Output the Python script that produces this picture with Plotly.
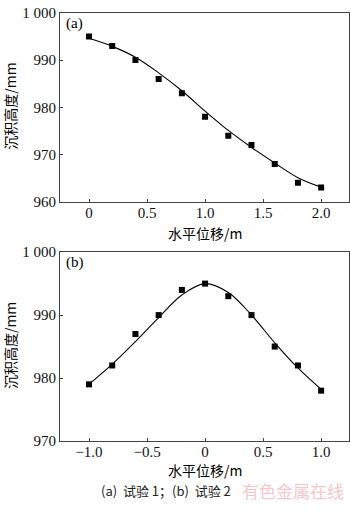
import plotly.graph_objects as go

# Test 1: measured deposition height along horizontal offset
x_a = [0, 0.2, 0.4, 0.6, 0.8, 1.0, 1.2, 1.4, 1.6, 1.8, 2.0]
h_a = [995, 993, 990, 986, 983, 978, 974, 972, 968, 964, 963]
# fitted curve for test 1
fx_a = [0, 0.2, 0.4, 0.6, 0.8, 1.0, 1.2, 1.4, 1.6, 1.8, 2.0]
fh_a = [994.6, 992.9, 990.6, 987.3, 983.5, 979.2, 975.1, 971.5, 968.2, 965.1, 963.1]

# Test 2
x_b = [-1.0, -0.8, -0.6, -0.4, -0.2, 0, 0.2, 0.4, 0.6, 0.8, 1.0]
h_b = [979, 982, 987, 990, 994, 995, 993, 990, 985, 982, 978]
fx_b = [-1.0, -0.8, -0.6, -0.4, -0.2, 0, 0.2, 0.4, 0.6, 0.8, 1.0]
fh_b = [979.0, 982.2, 985.8, 989.6, 993.2, 995.0, 993.6, 990.0, 985.6, 981.6, 978.2]

ticks_y_a = [960, 970, 980, 990, 1000]
ticks_y_b = [970, 980, 990, 1000]
ticks_x_a = [0, 0.5, 1.0, 1.5, 2.0]
ticks_x_b = [-1.0, -0.5, 0, 0.5, 1.0]

SERIF = "Liberation Serif, Times New Roman, serif"
CJK = "Noto Sans CJK SC, sans-serif"

def ylabel(v):
    return "1 000" if v == 1000 else str(v)

def xlabel(v):
    return "0" if v == 0 else f"{v:.1f}".replace("-", "\u2212")

fig = go.Figure()

marker = dict(symbol="square", size=6, color="black")
line = dict(color="black", width=1.1, shape="spline", smoothing=1.0)

fig.add_trace(go.Scatter(x=fx_a, y=fh_a, mode="lines", line=line, xaxis="x", yaxis="y", hoverinfo="skip"))
fig.add_trace(go.Scatter(x=x_a, y=h_a, mode="markers", marker=marker, xaxis="x", yaxis="y"))
fig.add_trace(go.Scatter(x=fx_b, y=fh_b, mode="lines", line=line, xaxis="x2", yaxis="y2", hoverinfo="skip"))
fig.add_trace(go.Scatter(x=x_b, y=h_b, mode="markers", marker=marker, xaxis="x2", yaxis="y2"))

W, H = 350, 512
def px_x(p):
    return p / W
def px_y(p):
    return 1 - p / H

axis_common = dict(
    showgrid=False, zeroline=False, showline=True, linecolor="#444", linewidth=1,
    mirror=True, ticks="inside", ticklen=3, tickcolor="#444", tickwidth=1,
    tickfont=dict(family=SERIF, size=15, color="#111"),
)

fig.update_layout(
    width=W, height=H, margin=dict(l=0, r=0, t=0, b=0),
    paper_bgcolor="white", plot_bgcolor="white", showlegend=False,
    xaxis=dict(axis_common, domain=[px_x(60), px_x(349)], range=[-0.25, 2.24],
               tickvals=ticks_x_a, ticktext=[xlabel(v) for v in ticks_x_a], anchor="y",
               ticklabelstandoff=-3),
    yaxis=dict(axis_common, domain=[px_y(200), px_y(5)], range=[960, 1000],
               tickvals=ticks_y_a, ticktext=[ylabel(v) for v in ticks_y_a], anchor="x",
               ticklabelstandoff=0),
    xaxis2=dict(axis_common, domain=[px_x(60), px_x(349)], range=[-1.25, 1.24],
                tickvals=ticks_x_b, ticktext=[xlabel(v) for v in ticks_x_b], anchor="y2",
                ticklabelstandoff=-3),
    yaxis2=dict(axis_common, domain=[px_y(447), px_y(252)], range=[970, 1000],
                tickvals=ticks_y_b, ticktext=[ylabel(v) for v in ticks_y_b], anchor="x2",
                ticklabelstandoff=0),
)

def note(text, x, y, size, family, color="black", xanchor="center", angle=0):
    fig.add_annotation(text=text, x=px_x(x), y=px_y(y), xref="paper", yref="paper",
                       showarrow=False, xanchor=xanchor, yanchor="middle", textangle=angle,
                       font=dict(family=family, size=size, color=color))

# axis titles
note("沉积高度/mm", 10, 102, 14, CJK, angle=-90)
note("水平位移/m", 205, 232, 14, CJK)
note("沉积高度/mm", 10, 349, 14, CJK, angle=-90)
note("水平位移/m", 205, 477, 14, CJK)

# panel labels
note("(a)", 64, 16, 15, SERIF, xanchor="left")
note("(b)", 64, 263, 15, SERIF, xanchor="left")

# caption and mark
note("(a)  试验 1；(b)  试验 2", 99, 498, 13, CJK, color="#222", xanchor="left")
note("有色金属在线", 240, 498, 17, CJK, color="#f5c6cc", xanchor="left")

fig.write_html("out.html")
